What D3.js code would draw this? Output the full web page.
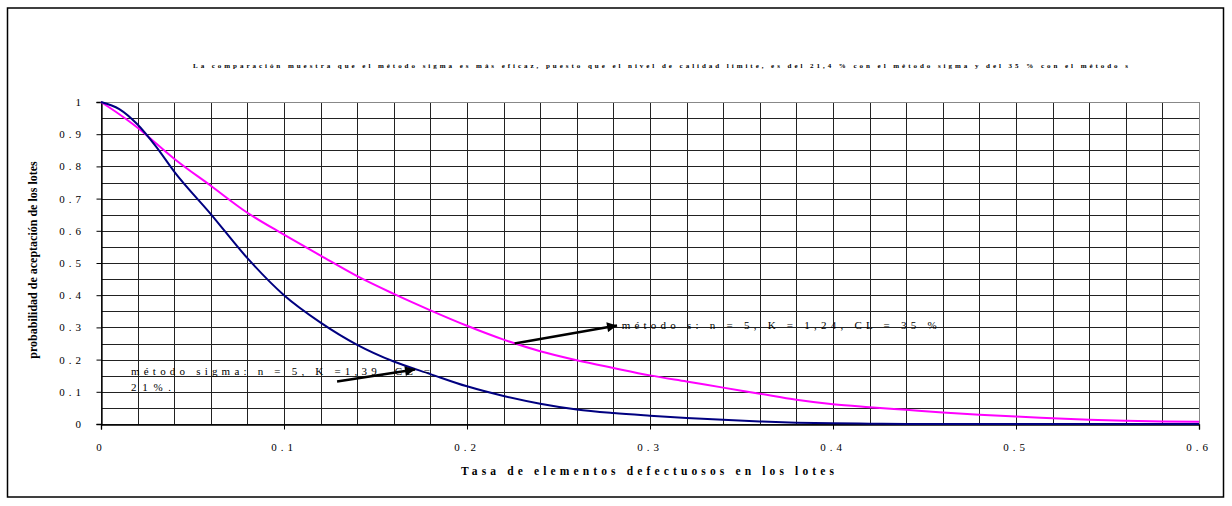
<!DOCTYPE html>
<html><head><meta charset="utf-8">
<script src="https://cdn.jsdelivr.net/npm/d3@7/dist/d3.min.js"></script>
<style>
html,body{margin:0;padding:0;background:#fff;}
svg{display:block;}
text{font-family:"Liberation Serif","Times New Roman",serif;fill:#000;}
</style></head>
<body>
<svg id="chart" width="1232" height="506"></svg>
<script>
// ---- data ----
const defectRate = [0,0.01,0.02,0.03,0.04,0.06,0.08,0.10,0.12,0.14,0.16,0.18,0.20,0.22,0.24,0.26,0.28,0.30,0.32,0.34,0.36,0.38,0.40,0.42,0.44,0.46,0.48,0.50,0.52,0.54,0.56,0.58,0.60];
const sigmaMethod = [1,0.978,0.93,0.862,0.784,0.652,0.515,0.40,0.315,0.246,0.194,0.155,0.117,0.087,0.063,0.045,0.034,0.026,0.019,0.013,0.008,0.004,0.002,0.001,0,0,0,0,0,0,0,0,0];
const sMethod = [1,0.962,0.92,0.872,0.824,0.74,0.656,0.588,0.523,0.459,0.404,0.353,0.305,0.262,0.226,0.198,0.174,0.151,0.132,0.113,0.094,0.075,0.061,0.052,0.044,0.036,0.029,0.023,0.018,0.013,0.010,0.008,0.007];
const xTicks = [0,0.1,0.2,0.3,0.4,0.5,0.6];
const yTicks = [0,0.1,0.2,0.3,0.4,0.5,0.6,0.7,0.8,0.9,1];
const xGrid = d3.range(0,31).map(i=>i*0.02);
const yGrid = d3.range(0,21).map(i=>i*0.05);
const titleText = "La comparación muestra que el método sigma es más eficaz, puesto que el nivel de calidad límite, es del 21,4 %  con el método sigma y del 35 %  con el método s";
const xTitle = "Tasa de elementos defectuosos en los lotes";
const yTitle = "probabilidad de aceptación de los lotes";
const noteSigma = ["método sigma: n = 5, K =1,39, CL =", "21%."];
const noteS = "método s: n = 5, K = 1,24, CL = 35 %";

// ---- layout ----
const svg = d3.select("#chart");
const x = d3.scaleLinear().domain([0,0.6]).range([101,1199]);
const y = d3.scaleLinear().domain([0,1]).range([424,102]);

svg.append("rect").attr("x",7.5).attr("y",8).attr("width",1216).attr("height",489)
  .attr("fill","#fff").attr("stroke","#000").attr("stroke-width",1.5);

// grid
const g = svg.append("g").attr("shape-rendering","crispEdges");
g.selectAll(".vg").data(xGrid).join("line")
  .attr("x1",d=>Math.round(x(d))+0.5).attr("x2",d=>Math.round(x(d))+0.5)
  .attr("y1",y(1)).attr("y2",y(0))
  .attr("stroke",(d,i)=> (i===30)?"#888":"#222").attr("stroke-width",1);
g.selectAll(".hg").data(yGrid).join("line")
  .attr("y1",d=>Math.round(y(d))+0.5).attr("y2",d=>Math.round(y(d))+0.5)
  .attr("x1",x(0)).attr("x2",x(0.6))
  .attr("stroke",(d,i)=> (i===20)?"#888":"#222").attr("stroke-width",1);

// axes
const xAxis = d3.axisBottom(x).tickValues(xTicks).tickSize(5).tickFormat("");
const ax = svg.append("g").attr("transform",`translate(0,${Math.round(y(0))+0.5})`).call(xAxis);
ax.select(".domain").attr("stroke","#000").attr("stroke-width",1.3);
ax.selectAll(".tick line").attr("stroke","#000");
const yAxis = d3.axisLeft(y).tickValues(yTicks).tickSize(5).tickFormat("");
const ay = svg.append("g").attr("transform",`translate(${Math.round(x(0))+0.5},0)`).call(yAxis);
ay.select(".domain").attr("stroke","#000").attr("stroke-width",1.3);
ay.selectAll(".tick line").attr("stroke","#000");

// tick labels
const fmt = d => d===0 ? "0" : (d===1 ? "1" : d3.format(".1f")(d));
svg.append("g").selectAll("text").data(xTicks).join("text")
  .attr("x",d=>x(d)).attr("y",451)
  .attr("text-anchor","middle").attr("font-size",11).attr("letter-spacing",4)
  .text(fmt);
svg.append("g").selectAll("text").data(yTicks).join("text")
  .attr("x",85).attr("y",d=>y(d)+4)
  .attr("text-anchor","end").attr("font-size",11).attr("letter-spacing",4)
  .text(fmt);

// lines
const line = (vals) => d3.line().x((d,i)=>x(defectRate[i])).y(d=>y(d)).curve(d3.curveMonotoneX)(vals);
svg.append("path").attr("d",line(sMethod)).attr("fill","none").attr("stroke","#FF00FF").attr("stroke-width",2);
svg.append("path").attr("d",line(sigmaMethod)).attr("fill","none").attr("stroke","#000080").attr("stroke-width",2);

// titles
svg.append("text").attr("x",193).attr("y",67.5).attr("font-size",7).attr("font-weight","bold")
  .attr("textLength",935).attr("lengthAdjust","spacing").text(titleText);
svg.append("text").attr("x",461).attr("y",475).attr("font-size",11.5).attr("font-weight","bold")
  .attr("textLength",373).attr("lengthAdjust","spacing").text(xTitle);
svg.append("text").attr("transform","translate(37,260) rotate(-90)").attr("text-anchor","middle")
  .attr("font-size",12).attr("font-weight","bold").text(yTitle);

// annotations
const defs = svg.append("defs");
defs.append("marker").attr("id","ah").attr("viewBox","0 0 10 10").attr("refX",10).attr("refY",5)
  .attr("markerWidth",5.5).attr("markerHeight",4).attr("markerUnits","strokeWidth").attr("orient","auto")
  .append("path").attr("d","M0,0 L10,5 L0,10 Z").attr("fill","#000");

svg.append("text").attr("x",x(0.0164)).attr("y",y(0.151)).attr("font-size",11)
  .attr("textLength",299).attr("lengthAdjust","spacing").text(noteSigma[0]);
svg.append("text").attr("x",x(0.0164)).attr("y",y(0.103)).attr("font-size",11)
  .attr("textLength",40).attr("lengthAdjust","spacing").text(noteSigma[1]);
svg.append("text").attr("x",x(0.2845)).attr("y",y(0.295)).attr("font-size",11)
  .attr("textLength",315).attr("lengthAdjust","spacing").text(noteS);

svg.append("line").attr("x1",x(0.129)).attr("y1",y(0.132)).attr("x2",x(0.1716)).attr("y2",y(0.169))
  .attr("stroke","#000").attr("stroke-width",2.5).attr("marker-end","url(#ah)");
svg.append("line").attr("x1",x(0.226)).attr("y1",y(0.25)).attr("x2",x(0.282)).attr("y2",y(0.306))
  .attr("stroke","#000").attr("stroke-width",2.5).attr("marker-end","url(#ah)");
</script>
</body></html>
